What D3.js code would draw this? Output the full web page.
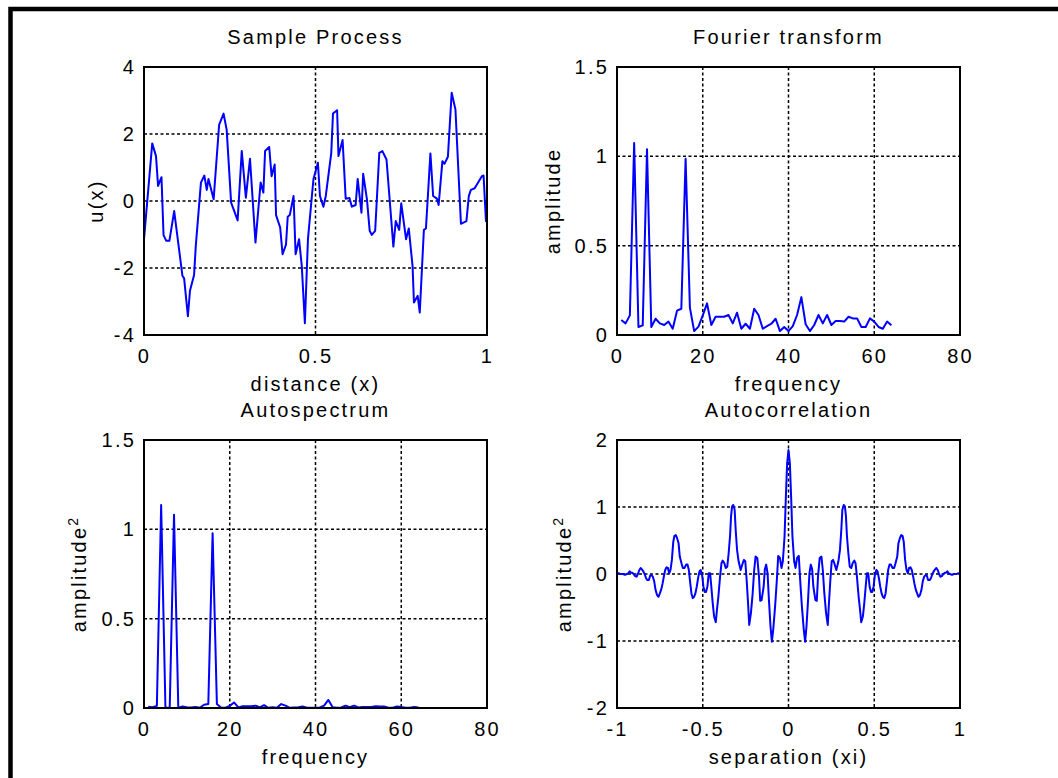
<!DOCTYPE html>
<html>
<head>
<meta charset="utf-8">
<script src="https://cdn.jsdelivr.net/npm/d3@7"></script>
<style>
  body { margin: 0; background: #fff; }
  text { font-family: "Liberation Sans", Arial, sans-serif; font-size: 20px; letter-spacing: 2.2px; fill: #000; }
</style>
</head>
<body>
<script>
// ---- data ----
// Sample process u(x)
var processX = [0.000,0.024,0.035,0.041,0.051,0.057,0.065,0.074,0.088,0.112,0.117,0.128,0.134,0.146,0.151,0.166,0.176,0.183,0.188,0.203,
  0.219,0.232,0.241,0.254,0.273,0.285,0.297,0.309,0.325,0.340,0.348,0.353,0.365,0.372,0.381,0.385,0.397,0.404,0.414,0.419,
  0.425,0.436,0.442,0.452,0.460,0.469,0.478,0.494,0.507,0.513,0.523,0.530,0.546,0.551,0.563,0.567,0.579,0.588,0.599,0.606,
  0.617,0.623,0.634,0.639,0.650,0.658,0.664,0.674,0.686,0.695,0.707,0.727,0.734,0.744,0.750,0.764,0.772,0.783,0.787,0.798,
  0.804,0.816,0.822,0.835,0.843,0.854,0.859,0.870,0.876,0.886,0.897,0.908,0.924,0.940,0.947,0.953,0.964,0.985,0.990,0.997,1.000];
var processU = [-1.14,1.72,1.34,0.45,0.71,-1.02,-1.19,-1.19,-0.30,-2.23,-2.31,-3.44,-2.68,-2.21,-1.34,0.55,0.76,0.33,0.66,0.05,
  2.27,2.61,2.13,-0.05,-0.58,1.49,0.10,1.26,-1.24,0.55,0.25,1.49,1.61,0.74,1.09,-0.42,-0.79,-1.59,-1.30,-0.47,
  -0.42,0.15,-1.59,-1.14,-1.94,-3.65,-1.14,0.65,1.14,0.15,-0.17,0.15,1.44,2.61,2.71,1.34,1.82,0.07,0.09,-0.17,
  -0.12,0.66,-0.35,0.81,0.05,-0.89,-1.01,-0.89,1.44,1.49,1.24,-1.36,-0.60,-0.86,-0.07,-1.14,-0.82,-1.94,-3.03,-2.83,
  -3.33,-0.86,-0.82,1.42,0.15,0.07,-0.12,1.19,1.11,1.32,3.23,2.73,-0.68,-0.60,0.15,0.33,0.38,0.74,0.76,-0.60,-0.62];

// Fourier transform / autospectrum, frequencies 1..64
var freq = [1,2,3,4,5,6,7,8,9,10,11,12,13,14,15,16,17,18,19,20,21,22,23,24,25,26,27,28,29,30,31,32,
  33,34,35,36,37,38,39,40,41,42,43,44,45,46,47,48,49,50,51,52,53,54,55,56,57,58,59,60,61,62,63,64];
var ftAmp = [0.084,0.065,0.110,1.075,0.045,0.054,1.040,0.045,0.091,0.065,0.056,0.075,0.035,0.136,0.147,0.986,
  0.153,0.022,0.047,0.110,0.177,0.056,0.102,0.102,0.102,0.112,0.065,0.125,0.035,0.063,0.035,0.147,
  0.112,0.035,0.050,0.063,0.091,0.022,0.045,0.022,0.050,0.112,0.212,0.060,0.022,0.056,0.112,0.065,
  0.112,0.056,0.078,0.078,0.075,0.102,0.093,0.093,0.045,0.045,0.093,0.075,0.045,0.035,0.075,0.054];
var specAmp2 = [0.007,0.004,0.012,1.136,0.002,0.003,1.082,0.002,0.008,0.004,0.003,0.006,0.001,0.018,0.022,0.978,
  0.023,0.001,0.002,0.012,0.031,0.003,0.010,0.010,0.010,0.013,0.004,0.016,0.001,0.004,0.001,0.022,
  0.013,0.001,0.003,0.004,0.008,0.001,0.002,0.001,0.003,0.013,0.045,0.004,0.001,0.003,0.013,0.004,
  0.013,0.003,0.006,0.006,0.006,0.010,0.009,0.009,0.002,0.002,0.009,0.006,0.002,0.001,0.006,0.003];

// Autocorrelation
var acfLag = [-1.000,-0.996,-0.988,
  -0.981,-0.973,-0.965,-0.957,-0.950,-0.942,-0.934,-0.926,-0.919,-0.911,
  -0.903,-0.895,-0.886,-0.878,-0.870,-0.862,-0.855,-0.847,-0.839,-0.831,
  -0.824,-0.814,-0.806,-0.798,-0.791,-0.783,-0.775,-0.767,-0.758,-0.750,
  -0.742,-0.734,-0.727,-0.719,-0.711,-0.703,-0.696,-0.688,-0.680,-0.672,
  -0.665,-0.657,-0.649,-0.641,-0.634,-0.624,-0.616,-0.607,-0.597,-0.589,
  -0.581,-0.574,-0.566,-0.558,-0.550,-0.543,-0.535,-0.527,-0.519,-0.512,
  -0.504,-0.496,-0.488,-0.481,-0.473,-0.465,-0.457,-0.450,-0.442,-0.434,
  -0.424,-0.417,-0.409,-0.399,-0.391,-0.384,-0.374,-0.366,-0.357,-0.349,
  -0.341,-0.335,-0.329,-0.322,-0.314,-0.308,-0.300,-0.291,-0.279,-0.267,
  -0.260,-0.252,-0.244,-0.236,-0.229,-0.219,-0.209,-0.200,-0.192,-0.182,
  -0.172,-0.165,-0.157,-0.145,-0.138,-0.130,-0.122,-0.114,-0.105,-0.097,
  -0.089,-0.078,-0.068,-0.060,-0.050,-0.041,-0.033,-0.023,-0.016,-0.008,
  0.000,
  0.008,0.016,0.023,0.033,0.041,0.050,0.060,0.068,0.078,0.089,
  0.097,0.105,0.114,0.122,0.130,0.138,0.145,0.157,0.165,0.172,
  0.182,0.192,0.200,0.209,0.219,0.229,0.236,0.244,0.252,0.260,
  0.267,0.279,0.291,0.300,0.308,0.314,0.322,0.329,0.335,0.341,
  0.349,0.357,0.366,0.374,0.384,0.391,0.399,0.409,0.417,0.424,
  0.434,0.442,0.450,0.457,0.465,0.473,0.481,0.488,0.496,0.504,
  0.512,0.519,0.527,0.535,0.543,0.550,0.558,0.566,0.574,0.581,
  0.589,0.597,0.607,0.616,0.624,0.634,0.641,0.649,0.657,0.665,
  0.672,0.680,0.688,0.696,0.703,0.711,0.719,0.727,0.734,0.742,
  0.750,0.758,0.767,0.775,0.783,0.791,0.798,0.806,0.814,0.824,
  0.831,0.839,0.847,0.855,0.862,0.870,0.878,0.886,0.895,0.903,
  0.911,0.919,0.926,0.934,0.942,0.950,0.957,0.965,0.973,0.981,
  0.988,0.996,1.000];
var acfValue = [0.02,0.01,0.01,
  0.00,0.00,0.00,-0.01,-0.01,0.00,0.01,0.04,0.02,0.02,
  0.00,-0.03,-0.04,0.00,0.06,0.09,0.07,0.04,0.00,-0.06,
  -0.09,-0.09,-0.02,-0.02,-0.04,-0.11,-0.24,-0.31,-0.34,-0.29,
  -0.23,-0.14,-0.04,0.06,0.10,0.09,0.01,0.06,0.21,0.48,
  0.57,0.58,0.53,0.46,0.26,0.16,0.09,0.09,0.14,0.14,
  0.06,-0.11,-0.29,-0.36,-0.34,-0.29,-0.19,-0.06,0.04,0.06,
  -0.01,-0.19,-0.27,-0.27,-0.19,0.01,0.01,-0.19,-0.43,-0.63,
  -0.72,-0.53,-0.34,-0.04,0.16,0.20,0.16,0.09,0.11,0.31,
  0.56,0.86,1.01,1.03,0.96,0.66,0.36,0.19,0.06,0.16,
  0.21,0.19,-0.09,-0.43,-0.76,-0.58,-0.29,0.06,0.26,0.24,
  -0.04,-0.40,-0.39,-0.19,0.07,0.14,0.01,-0.39,-0.78,-1.01,
  -0.83,-0.48,-0.09,0.27,0.24,0.09,0.19,0.56,1.10,1.65,
  1.85,
  1.65,1.10,0.56,0.19,0.09,0.24,0.27,-0.09,-0.48,-0.83,
  -1.01,-0.78,-0.39,0.01,0.14,0.07,-0.19,-0.39,-0.40,-0.04,
  0.24,0.26,0.06,-0.29,-0.58,-0.76,-0.43,-0.09,0.19,0.21,
  0.16,0.06,0.19,0.36,0.66,0.96,1.03,1.01,0.86,0.56,
  0.31,0.11,0.09,0.16,0.20,0.16,-0.04,-0.34,-0.53,-0.72,
  -0.63,-0.43,-0.19,0.01,0.01,-0.19,-0.27,-0.27,-0.19,-0.01,
  0.06,0.04,-0.06,-0.19,-0.29,-0.34,-0.36,-0.29,-0.11,0.06,
  0.14,0.14,0.09,0.09,0.16,0.26,0.46,0.53,0.58,0.57,
  0.48,0.21,0.06,0.01,0.09,0.10,0.06,-0.04,-0.14,-0.23,
  -0.29,-0.34,-0.31,-0.24,-0.11,-0.04,-0.02,-0.02,-0.09,-0.09,
  -0.06,0.00,0.04,0.07,0.09,0.06,0.00,-0.04,-0.03,0.00,
  0.02,0.02,0.04,0.01,0.00,-0.01,-0.01,0.00,0.00,0.00,
  0.01,0.01,0.02];

// tick labels
var ticksUnit = [0, 0.5, 1];
var ticksSym = [-1, -0.5, 0, 0.5, 1];
var ticksFreq = [0, 20, 40, 60, 80];
var ticksU = [-4, -2, 0, 2, 4];
var ticksAmp = [0, 0.5, 1, 1.5];
var ticksAcf = [-2, -1, 0, 1, 2];

// ---- layout ----
var width = 1058, height = 778;
var pw = 343, ph = 268;

var svg = d3.select('body').append('svg')
  .attr('width', width)
  .attr('height', height);

// outer frame (only top and left edges are visible)
svg.append('rect')
  .attr('x', 10.5).attr('y', 9)
  .attr('width', 2000).attr('height', 2000)
  .attr('fill', 'none')
  .attr('stroke', '#000')
  .attr('stroke-width', 4.5);

// plain hyphen minus, like the original
var fmt = d => String(d);

function panel(o) {
  var g = svg.append('g').attr('transform', 'translate(' + o.left + ',' + o.top + ')');
  var x = d3.scaleLinear().domain(o.xDomain).range([0, pw]);
  var y = d3.scaleLinear().domain(o.yDomain).range([ph, 0]);

  // dotted grid on inner ticks
  g.append('g').selectAll('line')
    .data(o.xTicks.filter(d => d > o.xDomain[0] && d < o.xDomain[1]))
    .enter().append('line')
    .attr('x1', d => x(d)).attr('x2', d => x(d))
    .attr('y1', 0).attr('y2', ph)
    .attr('stroke', '#000').attr('stroke-width', 1.5)
    .attr('stroke-dasharray', '3,2.5');
  g.append('g').selectAll('line')
    .data(o.yTicks.filter(d => d > o.yDomain[0] && d < o.yDomain[1]))
    .enter().append('line')
    .attr('x1', 0).attr('x2', pw)
    .attr('y1', d => y(d)).attr('y2', d => y(d))
    .attr('stroke', '#000').attr('stroke-width', 1.5)
    .attr('stroke-dasharray', '3,2.5');

  g.append('path')
    .datum(d3.zip(o.xs, o.ys))
    .attr('fill', 'none')
    .attr('stroke', '#0000ff')
    .attr('stroke-width', 2)
    .attr('stroke-linejoin', 'round')
    .attr('d', d3.line().x(d => x(d[0])).y(d => y(d[1])));

  g.append('rect')
    .attr('width', pw).attr('height', ph)
    .attr('fill', 'none')
    .attr('stroke', '#000')
    .attr('stroke-width', 2);

  var xa = g.append('g')
    .attr('transform', 'translate(0,' + ph + ')')
    .call(d3.axisBottom(x).tickValues(o.xTicks).tickSize(0).tickPadding(14).tickFormat(fmt));
  xa.select('.domain').remove();
  var ya = g.append('g')
    .call(d3.axisLeft(y).tickValues(o.yTicks).tickSize(0).tickPadding(8).tickFormat(fmt));
  ya.select('.domain').remove();
  g.selectAll('.tick text').attr('font-size', null).attr('font-family', null);

  g.append('text')
    .attr('x', pw / 2).attr('y', -23)
    .attr('text-anchor', 'middle')
    .text(o.title);
  g.append('text')
    .attr('x', pw / 2).attr('y', ph + 56)
    .attr('text-anchor', 'middle')
    .text(o.xLabel);
  var yl = g.append('text')
    .attr('transform', 'translate(' + o.yLabelX + ',' + ph / 2 + ') rotate(-90)')
    .attr('text-anchor', 'middle')
    .text(o.yLabel);
  if (o.ySup) {
    yl.append('tspan')
      .attr('dy', -8)
      .style('font-size', '14px')
      .text(o.ySup);
  }
}

panel({
  left: 144, top: 67,
  xDomain: [0, 1], yDomain: [-4, 4],
  xTicks: ticksUnit, yTicks: ticksU,
  xs: processX, ys: processU,
  title: 'Sample Process', xLabel: 'distance (x)', yLabel: 'u(x)', yLabelX: -41
});
panel({
  left: 617, top: 67,
  xDomain: [0, 80], yDomain: [0, 1.5],
  xTicks: ticksFreq, yTicks: ticksAmp,
  xs: freq, ys: ftAmp,
  title: 'Fourier transform', xLabel: 'frequency', yLabel: 'amplitude', yLabelX: -57
});
panel({
  left: 144, top: 440,
  xDomain: [0, 80], yDomain: [0, 1.5],
  xTicks: ticksFreq, yTicks: ticksAmp,
  xs: freq, ys: specAmp2,
  title: 'Autospectrum', xLabel: 'frequency', yLabel: 'amplitude', ySup: '2', yLabelX: -58
});
panel({
  left: 617, top: 440,
  xDomain: [-1, 1], yDomain: [-2, 2],
  xTicks: ticksSym, yTicks: ticksAcf,
  xs: acfLag, ys: acfValue,
  title: 'Autocorrelation', xLabel: 'separation (xi)', yLabel: 'amplitude', ySup: '2', yLabelX: -46
});
</script>
</body>
</html>
